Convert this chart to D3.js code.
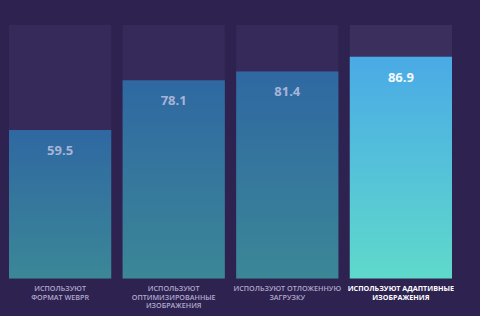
<!DOCTYPE html>
<html>
<head>
<meta charset="utf-8">
<script src="https://cdn.jsdelivr.net/npm/d3@7"></script>
<style>
  body { margin: 0; background: #2d2250; }
  svg { display: block; }
</style>
</head>
<body>
<div id="chart"></div>
<script>
// chart data
const categories = [
  ["ИСПОЛЬЗУЮТ", "ФОРМАТ WEBPR"],
  ["ИСПОЛЬЗУЮТ", "ОПТИМИЗИРОВАННЫЕ", "ИЗОБРАЖЕНИЯ"],
  ["ИСПОЛЬЗУЮТ ОТЛОЖЕННУЮ", "ЗАГРУЗКУ"],
  ["ИСПОЛЬЗУЮТ АДАПТИВНЫЕ", "ИЗОБРАЖЕНИЯ"]
];
const values = [59.5, 78.1, 81.4, 86.9];
const highlight = [false, false, false, true];

const W = 480, H = 316;
const bottom = 278.5, trackTop = 25;

const svg = d3.select("#chart").append("svg")
  .attr("width", W).attr("height", H);

const defs = svg.append("defs");
const gNormal = defs.append("linearGradient").attr("id", "gNormal")
  .attr("x1", 0).attr("y1", 0).attr("x2", 0).attr("y2", 1);
gNormal.append("stop").attr("offset", "0%").attr("stop-color", "#2f68a2");
gNormal.append("stop").attr("offset", "100%").attr("stop-color", "#3b8797");
const gHi = defs.append("linearGradient").attr("id", "gHi")
  .attr("x1", 0).attr("y1", 0).attr("x2", 0).attr("y2", 1);
gHi.append("stop").attr("offset", "0%").attr("stop-color", "#4aaae6");
gHi.append("stop").attr("offset", "100%").attr("stop-color", "#5fd9cb");

const x = d3.scaleBand()
  .domain(d3.range(values.length))
  .range([9, 452])
  .paddingInner(0.1);

const y = d3.scaleLinear().domain([0, 100]).range([289.2, 21.7]);

const g = svg.append("g");

// tracks
g.selectAll("rect.track")
  .data(values)
  .enter().append("rect")
  .attr("class", "track")
  .attr("x", (d, i) => x(i))
  .attr("y", trackTop)
  .attr("width", x.bandwidth())
  .attr("height", bottom - trackTop)
  .attr("fill", (d, i) => highlight[i] ? "#3b2f5e" : "#352a59");

// bars
g.selectAll("rect.bar")
  .data(values)
  .enter().append("rect")
  .attr("class", "bar")
  .attr("x", (d, i) => x(i))
  .attr("y", d => y(d))
  .attr("width", x.bandwidth())
  .attr("height", d => bottom - y(d))
  .attr("fill", (d, i) => highlight[i] ? "url(#gHi)" : "url(#gNormal)");

// value labels
g.selectAll("text.val")
  .data(values)
  .enter().append("text")
  .attr("class", "val")
  .attr("x", (d, i) => x(i) + x.bandwidth() / 2)
  .attr("y", d => y(d) + 25)
  .attr("text-anchor", "middle")
  .attr("font-family", "'Open Sans', sans-serif")
  .attr("font-weight", 700)
  .attr("font-size", 13)
  .attr("fill", (d, i) => highlight[i] ? "#f4f8ff" : "#a6b4d8")
  .text(d => d.toFixed(1));

// category labels
const cat = g.selectAll("text.cat")
  .data(categories)
  .enter().append("text")
  .attr("class", "cat")
  .attr("x", (d, i) => x(i) + x.bandwidth() / 2)
  .attr("y", 291)
  .attr("text-anchor", "middle")
  .attr("font-family", "'Open Sans', sans-serif")
  .attr("font-weight", (d, i) => highlight[i] ? 700 : 600)
  .attr("font-size", 7.2)
  .attr("fill", (d, i) => highlight[i] ? "#ffffff" : "#b2abcc");

cat.selectAll("tspan")
  .data(d => d)
  .enter().append("tspan")
  .attr("x", function () { return d3.select(this.parentNode).attr("x"); })
  .attr("dy", (d, i) => i === 0 ? 0 : 8.5)
  .text(d => d);
</script>
</body>
</html>
